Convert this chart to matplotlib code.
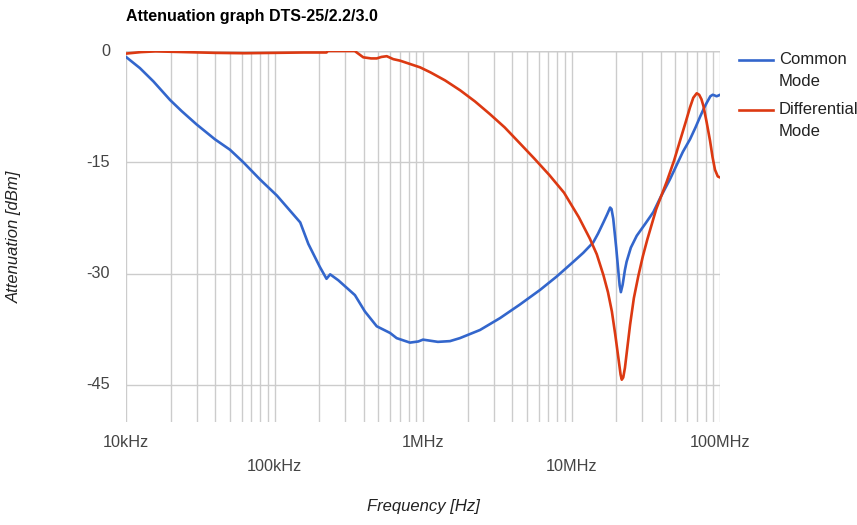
import matplotlib
matplotlib.use("Agg")
import matplotlib.pyplot as plt
from matplotlib.ticker import FixedLocator, NullFormatter

plt.rcParams['font.family'] = ['Liberation Sans', 'DejaVu Sans']

title = "Attenuation graph DTS-25/2.2/3.0"
x_label = "Frequency [Hz]"
y_label = "Attenuation [dBm]"

cm_freq = [1.00e4, 1.24e4, 1.53e4, 1.98e4, 2.37e4, 2.99e4, 3.97e4, 5.01e4, 6.17e4, 7.98e4,
           1.04e5, 1.49e5, 1.69e5, 2.02e5, 2.24e5, 2.37e5, 2.69e5, 3.48e5, 4.06e5, 4.88e5,
           6.00e5, 6.65e5, 8.17e5, 9.29e5, 1.00e6, 1.26e6, 1.52e6, 1.77e6, 2.42e6, 3.30e6,
           4.47e6, 6.14e6, 7.94e6, 1.03e7, 1.20e7, 1.40e7, 1.51e7, 1.64e7, 1.74e7, 1.82e7,
           1.86e7, 1.91e7, 2.00e7, 2.07e7, 2.11e7, 2.15e7, 2.21e7, 2.29e7, 2.35e7, 2.51e7,
           2.75e7, 3.16e7, 3.56e7, 3.98e7, 4.60e7, 5.62e7, 6.28e7, 6.84e7, 7.33e7, 7.76e7,
           8.13e7, 8.61e7, 8.93e7, 9.23e7, 9.48e7, 9.77e7, 1.00e8]
cm_db = [-0.8, -2.3, -4.1, -6.6, -8.1, -9.9, -11.9, -13.3, -15.0, -17.3,
         -19.5, -23.1, -26.0, -29.1, -30.7, -30.1, -30.9, -32.9, -35.1, -37.1,
         -38.0, -38.7, -39.3, -39.15, -38.9, -39.2, -39.1, -38.7, -37.6, -36.0,
         -34.2, -32.2, -30.4, -28.4, -27.2, -25.8, -24.6, -23.1, -22.0, -21.1,
         -21.3, -22.6, -26.5, -29.8, -31.6, -32.5, -31.5, -29.5, -28.4, -26.5,
         -24.9, -23.2, -21.7, -19.7, -17.3, -13.6, -11.9, -10.3, -8.9, -7.8,
         -7.0, -6.1, -5.9, -6.0, -6.1, -6.0, -5.9]

dm_freq = [1.00e4, 1.26e4, 1.58e4, 2.51e4, 3.98e4, 6.31e4, 1.00e5, 1.58e5, 2.24e5, 2.29e5,
           3.47e5, 3.96e5, 4.47e5, 4.88e5, 5.25e5, 5.70e5, 6.31e5, 7.00e5, 9.55e5, 1.12e6,
           1.41e6, 1.78e6, 2.24e6, 2.82e6, 3.55e6, 4.47e6, 5.62e6, 7.08e6, 8.91e6, 1.12e7,
           1.33e7, 1.48e7, 1.64e7, 1.76e7, 1.87e7, 1.97e7, 2.07e7, 2.14e7, 2.18e7, 2.23e7,
           2.29e7, 2.37e7, 2.48e7, 2.63e7, 2.82e7, 3.02e7, 3.24e7, 3.72e7, 4.38e7, 4.90e7,
           5.38e7, 5.89e7, 6.28e7, 6.61e7, 6.97e7, 7.24e7, 7.50e7, 7.73e7, 8.13e7, 8.57e7,
           8.91e7, 9.25e7, 9.66e7, 1.00e8]
dm_db = [-0.35, -0.15, -0.05, -0.15, -0.25, -0.3, -0.25, -0.2, -0.2, 0.0,
         0.0, -0.85, -1.0, -1.0, -0.8, -0.7, -1.1, -1.3, -2.2, -2.87,
         -3.97, -5.3, -6.8, -8.5, -10.3, -12.4, -14.5, -16.7, -19.1, -22.4,
         -25.3, -27.4, -30.2, -32.5, -35.1, -38.2, -41.4, -43.6, -44.3, -44.0,
         -42.7, -40.2, -36.9, -33.3, -30.3, -27.7, -25.4, -21.3, -17.6, -14.8,
         -12.1, -9.5, -7.6, -6.3, -5.7, -5.9, -6.5, -7.4, -9.6, -12.1,
         -14.3, -16.0, -16.9, -17.05]

y_ticks = [0, -15, -30, -45]
x_ticks = [1e4, 1e5, 1e6, 1e7, 1e8]
x_tick_labels = ["10kHz", "100kHz", "1MHz", "10MHz", "100MHz"]
series_names = [["Common", "Mode"], ["Differential", "Mode"]]
colors = ["#3366cc", "#dc3912"]

W, H = 857, 525
fig = plt.figure(figsize=(W / 100, H / 100), dpi=100)
L, R, T, B = 126, 720, 51, 422
ax = fig.add_axes([L / W, 1 - B / H, (R - L) / W, (B - T) / H])

ax.set_xscale('log')
ax.set_xlim(1e4, 1e8)
ax.set_ylim(-50, 0)

minor = []
for dec in [1e4, 1e5, 1e6, 1e7]:
    for m in range(2, 10):
        minor.append(dec * m)
ax.xaxis.set_major_locator(FixedLocator(x_ticks))
ax.xaxis.set_minor_locator(FixedLocator(minor))
ax.xaxis.set_minor_formatter(NullFormatter())
ax.set_xticklabels([])
ax.set_yticks(y_ticks)
ax.set_yticklabels([])
ax.grid(True, which='both', axis='x', color='#cccccc', lw=1.0, zorder=0)
ax.grid(True, which='major', axis='y', color='#cccccc', lw=1.0, zorder=0)
ax.tick_params(which='both', length=0)
for s in ax.spines.values():
    s.set_visible(False)
ax.axhline(0, color='#555555', lw=1.6, zorder=1)

ax.plot(cm_freq, cm_db, color=colors[0], lw=1.9, zorder=3,
        solid_joinstyle='round', solid_capstyle='round')
ax.plot(dm_freq, dm_db, color=colors[1], lw=1.9, zorder=4,
        solid_joinstyle='round', solid_capstyle='round')

FS = 11.7
for v in y_ticks:
    ax.text(-0.027, (v + 50) / 50, str(v), transform=ax.transAxes, ha='right', va='center',
            fontsize=FS, color='#444444')
for i, (f, lab) in enumerate(zip(x_ticks, x_tick_labels)):
    ypx = 442 if i % 2 == 0 else 466
    ax.text(f, 1 - (ypx - T) / (B - T), lab, transform=ax.get_xaxis_transform(),
            ha='center', va='center', fontsize=FS, color='#444444')

fig.text(L / W, 1 - 17 / H, title, ha='left', va='center', fontsize=11.5, fontweight='bold',
         color='#000000')
fig.text(423 / W, 1 - 507 / H, x_label, ha='center', va='center', fontsize=12,
         style='italic', color='#222222')
fig.text(14 / W, 1 - 237 / H, y_label, ha='center', va='center', fontsize=12,
         style='italic', color='#222222', rotation=90)

leg_y = [60, 110]
for lines, c, ly in zip(series_names, colors, leg_y):
    fig.add_artist(plt.Line2D([739 / W, 773 / W], [1 - ly / H, 1 - ly / H], color=c, lw=1.9))
    for k, t in enumerate(lines):
        fig.text(779 / W, 1 - (ly + k * 22) / H, t, ha='left', va='center', fontsize=12,
                 color='#222222')

fig.savefig("out.png", dpi=100)
